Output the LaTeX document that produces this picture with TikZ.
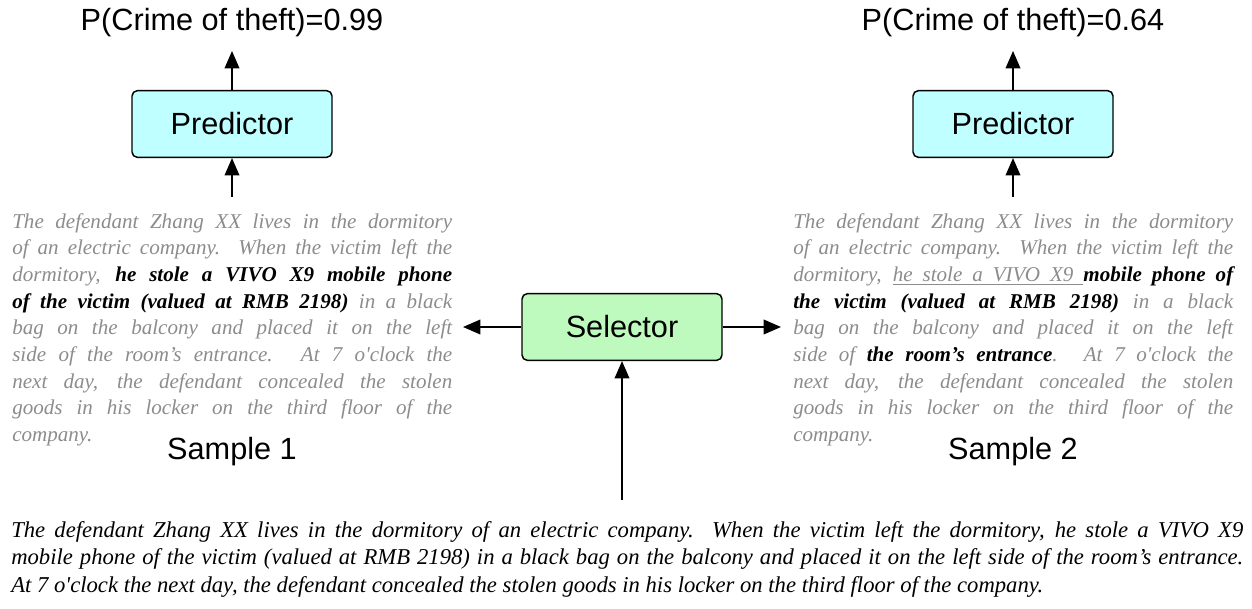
\documentclass[tikz,border=0pt]{standalone}
\usepackage{fontspec}
\usetikzlibrary{arrows.meta}
\newfontfamily\serifit{Liberation Serif}
\newfontfamily\sanslbl{Liberation Sans}
\definecolor{cyanfill}{HTML}{BFFFFF}
\definecolor{greenfill}{HTML}{BEFABE}
\definecolor{txtgray}{HTML}{8C8C8C}
% font word spacing for the paragraphs (stretchable, so lines can be justified)
\newcommand\parspaces{\spaceskip=0pt\xspaceskip=0pt\relax}
% one justified line of a fixed-width paragraph
\newcommand\jline[1]{{\parspaces\makebox[\linewidth][s]{#1}}\\}
% black bold-italic highlight inside gray text
\newcommand\hlt[1]{\textcolor{black}{\bfseries #1}}
% underlined word and underlined stretchable space
\newcommand\ulw[1]{\setbox0\hbox{#1}\rlap{\rule[-2.4pt]{\wd0}{0.7pt}}\box0}
\newcommand\ulsp{\leaders\hrule height -1.7pt depth 2.4pt
  \hskip\fontdimen2\font plus\fontdimen3\font minus\fontdimen4\font}
\begin{document}
\begin{tikzpicture}[x=0.75pt,y=-0.75pt,
  modbox/.style={draw, line width=1.1pt, rounded corners=4pt,
    minimum width=150pt, minimum height=50pt, inner sep=0pt,
    font=\sanslbl\fontsize{23}{27}\selectfont},
  predbox/.style={modbox, fill=cyanfill},
  selbox/.style={modbox, fill=greenfill},
  heading/.style={font=\sanslbl\fontsize{23}{27}\selectfont, inner sep=0pt, anchor=base},
  samplelbl/.style={font=\sanslbl\fontsize{23}{27}\selectfont, inner sep=0pt, anchor=base},
  arr/.style={-{Triangle[length=13pt,width=11pt]}, line width=1.1pt},
  para/.style={text width=330pt, inner sep=0pt, anchor=north west, align=left,
    text=txtgray, font=\serifit\itshape\fontsize{15.8}{20}\selectfont},
  fulltext/.style={text width=924pt, inner sep=0pt, anchor=north west, align=left,
    font=\serifit\itshape\fontsize{17}{20.6}\selectfont}]
\useasboundingbox (0,0) rectangle (1252,609);

% outputs and predictors
\node[heading] (o1) at (232,31) {P(Crime of theft)=0.99};
\node[heading] (o2) at (1013,31) {P(Crime of theft)=0.64};
\node[predbox] (p1) at (232,124) {Predictor};
\node[predbox] (p2) at (1013,124) {Predictor};
\node[selbox] (sel) at (622,327) {Selector};

\coordinate (o1tip) at (232,51);
\coordinate (o2tip) at (1013,51);
\coordinate (in1) at (232,197);
\coordinate (in2) at (1013,197);
\coordinate (t1) at (463,327);
\coordinate (t2) at (781,327);
\coordinate (src) at (622,500);

\draw[arr] (p1.north) -- (o1tip);
\draw[arr] (p2.north) -- (o2tip);
\draw[arr] (in1) -- (p1.south);
\draw[arr] (in2) -- (p2.south);
\draw[arr] (sel.west) -- (t1);
\draw[arr] (sel.east) -- (t2);
\draw[arr] (src) -- (sel.south);

% sample 1
\node[para] (s1) at (12,213) {%
\jline{The defendant Zhang XX lives in the dormitory}
\jline{of an electric company. When the victim left the}
\jline{dormitory, \hlt{he stole a VIVO X9 mobile phone}}
\jline{\hlt{of the victim (valued at RMB 2198)} in a black}
\jline{bag on the balcony and placed it on the left}
\jline{side of the room’s entrance. At 7 o'clock the}
\jline{next day, the defendant concealed the stolen}
\jline{goods in his locker on the third floor of the}
company.};

% sample 2
\node[para] (s2) at (793,213) {%
\jline{The defendant Zhang XX lives in the dormitory}
\jline{of an electric company. When the victim left the}
\jline{dormitory, \ulw{he}\ulsp\ulw{stole}\ulsp\ulw{a}\ulsp\ulw{VIVO}\ulsp\ulw{X9}\ulsp\hlt{mobile phone of}}
\jline{\hlt{the victim (valued at RMB 2198)} in a black}
\jline{bag on the balcony and placed it on the left}
\jline{side of \hlt{the room’s entrance}. At 7 o'clock the}
\jline{next day, the defendant concealed the stolen}
\jline{goods in his locker on the third floor of the}
company.};

\node[samplelbl] (l1) at (232,459) {Sample 1};
\node[samplelbl] (l2) at (1013,459) {Sample 2};

% original input
\node[fulltext] (full) at (11,521) {%
\jline{The defendant Zhang XX lives in the dormitory of an electric company. When the victim left the dormitory, he stole a VIVO X9}
\jline{mobile phone of the victim (valued at RMB 2198) in a black bag on the balcony and placed it on the left side of the room’s entrance.}
{\parspaces At 7 o'clock the next day, the defendant concealed the stolen goods in his locker on the third floor of the company.}};
\end{tikzpicture}
\end{document}
